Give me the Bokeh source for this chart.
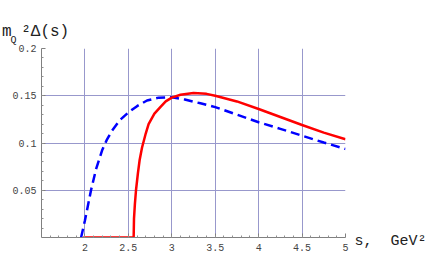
from bokeh.plotting import figure
from bokeh.models import FixedTicker, Range1d, Title, LinearAxis
from bokeh.embed import file_html
from bokeh.resources import INLINE

# ---- data ----
red_s = [1.98, 2.561, 2.565, 2.575, 2.588, 2.61, 2.63, 2.657, 2.70, 2.733, 2.80, 2.868,
         2.93, 3.0, 3.1, 3.25, 3.4, 3.5, 3.75, 4.0, 4.25, 4.5, 4.75, 5.0]
red_y = [0.0, 0.0, 0.02, 0.035, 0.05, 0.068, 0.082, 0.095, 0.110, 0.120, 0.131, 0.138,
         0.144, 0.148, 0.151, 0.153, 0.152, 0.150, 0.144, 0.136, 0.1275, 0.119, 0.111, 0.104]

blue_s = [1.956, 2.0, 2.07, 2.13, 2.197, 2.25, 2.312, 2.4, 2.504, 2.6, 2.715, 2.85, 3.0,
          3.15, 3.33, 3.5, 3.75, 4.0, 4.25, 4.5, 4.75, 5.0]
blue_y = [0.0, 0.018, 0.05, 0.073, 0.092, 0.103, 0.113, 0.124, 0.1326, 0.139, 0.145, 0.148,
          0.1485, 0.146, 0.142, 0.138, 0.130, 0.122, 0.115, 0.1077, 0.1005, 0.0937]

x_ticks = [2, 2.5, 3, 3.5, 4, 4.5, 5]
y_ticks = [0.05, 0.1, 0.15, 0.2]
x_tick_labels = {2: "2", 2.5: "2.5", 3: "3", 3.5: "3.5", 4: "4", 4.5: "4.5", 5: "5"}
y_tick_labels = {0.05: "0.05", 0.1: "0.1", 0.15: "0.15", 0.2: "0.2"}
x_minor = [round(1.6 + 0.1 * i, 2) for i in range(34)]
y_minor = [round(0.01 * i, 2) for i in range(1, 20)]

y_label_main = "m\u00a0\u00b2\u0394(s)"
y_label_sub = "Q"
x_label = "\ns,\u00a0\u00a0GeV\u00b2"

FONT = "Liberation Mono"
W, H = 429, 262

p = figure(width=W, height=H, output_backend="svg", toolbar_location=None, title=None,
           x_range=Range1d(1.5, 5), y_range=Range1d(0, 0.2),
           min_border_left=41, min_border_right=84, min_border_top=48, min_border_bottom=25)
p.outline_line_color = None
p.background_fill_color = "white"
p.border_fill_color = "white"

for ax, ticks, minor, labels in ((p.xaxis[0], x_ticks, x_minor, x_tick_labels),
                                 (p.yaxis[0], y_ticks, y_minor, y_tick_labels)):
    ax.ticker = FixedTicker(ticks=ticks, minor_ticks=minor)
    ax.major_label_overrides = labels
    ax.axis_line_color = "#808080"
    ax.axis_line_width = 1
    ax.major_tick_line_color = "#808080"
    ax.minor_tick_line_color = "#909090"
    ax.major_tick_in = 4
    ax.major_tick_out = 0
    ax.minor_tick_in = 2
    ax.minor_tick_out = 0
    ax.major_label_text_font = FONT
    ax.major_label_text_font_size = "10px"
    ax.major_label_text_color = "#444444"
p.xaxis.major_label_standoff = 6
p.yaxis.major_label_standoff = 5

p.xgrid.grid_line_color = "#9898cc"
p.ygrid.grid_line_color = "#9898cc"

p.line(blue_s, blue_y, line_color="#0000ff", line_width=2.5, line_dash="9 5")
p.line(red_s, red_y, line_color="#ff0000", line_width=2.5)

# x label drawn as the single tick label of a bare right-hand axis at the frame bottom
xl = LinearAxis(ticker=FixedTicker(ticks=[0], minor_ticks=[]),
                major_label_overrides={0: x_label})
xl.axis_line_color = None
xl.major_tick_line_color = None
xl.major_tick_in = 0
xl.major_tick_out = 0
xl.major_label_standoff = 9
xl.major_label_text_font = FONT
xl.major_label_text_font_size = "15px"
xl.major_label_text_line_height = 0.5
xl.major_label_text_color = "#222222"
p.add_layout(xl, "right")

# y label above the frame (titles stack outward from the frame)
t_sub = Title(text=y_label_sub, align="left", offset=10 - 41, standoff=5,
              text_font=FONT, text_font_size="10px", text_font_style="normal",
              text_color="#222222")
t_main = Title(text=y_label_main, align="left", offset=1.5 - 41, standoff=-20,
               text_font=FONT, text_font_size="16px", text_font_style="normal",
               text_color="#222222")
p.add_layout(t_sub, "above")
p.add_layout(t_main, "above")

open("out.html", "w").write(file_html(p, INLINE))
